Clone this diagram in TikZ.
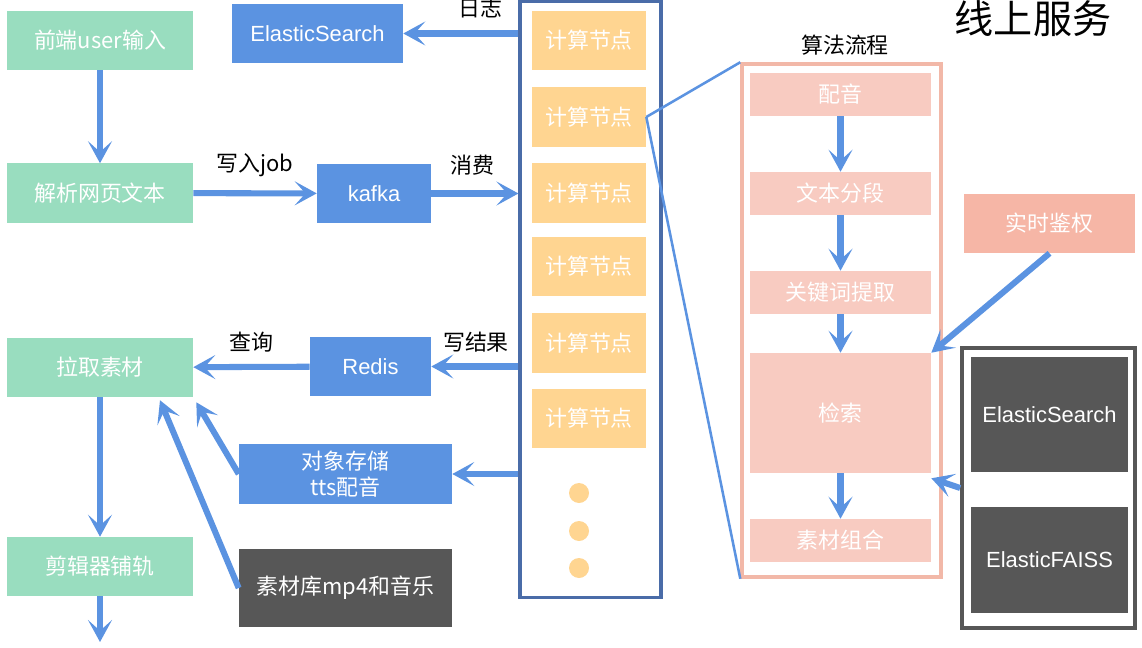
\documentclass[tikz,border=0pt]{standalone}
\usepackage{fontspec}
\setmainfont{Liberation Sans}
\newfontfamily\cjk{Noto Sans CJK SC}
\usetikzlibrary{arrows.meta,calc,positioning}
\definecolor{mintgreen}{HTML}{99DDBF}
\definecolor{flowblue}{HTML}{5B93E1}
\definecolor{colblue}{HTML}{4A6CA8}
\definecolor{nodeorange}{HTML}{FFD591}
\definecolor{lightpink}{HTML}{F8CBC1}
\definecolor{framepink}{HTML}{F2B8A8}
\definecolor{salmon}{HTML}{F6B6A6}
\definecolor{darkgray}{HTML}{575757}
\tikzset{
    zhtext/.style = {font=\cjk\fontsize{15.6}{18.4}\selectfont},
    entext/.style = {font=\fontsize{15.6}{18.4}\selectfont},
    box/.style = {inner sep=0pt, text=white, align=center},
    greenbox/.style = {box, zhtext, fill=mintgreen, minimum width=4.65cm, minimum height=1.475cm},
    bluebox/.style = {box, fill=flowblue, minimum height=1.475cm},
    compbox/.style = {box, zhtext, fill=nodeorange, minimum width=2.85cm, minimum height=1.475cm},
    algobox/.style = {box, zhtext, fill=lightpink, minimum width=4.525cm, minimum height=1.075cm},
    graybox/.style = {box, entext, fill=darkgray, minimum width=3.925cm},
    dot/.style = {circle, fill=nodeorange, inner sep=0pt, minimum size=0.5cm},
    lbl/.style = {zhtext, text=black},
    flow/.style = {draw=flowblue, line width=4.3pt, -{Stealth[length=0.55cm,width=0.6cm,inset=0.27cm]}},
    zoomline/.style = {draw=flowblue, line width=1.8pt}
}

\begin{document}
\begin{tikzpicture}[x=0.025cm, y=-0.025cm]
    \useasboundingbox (0,0) rectangle (1142,648);

    %% left column
    \node[greenbox] (input) at (100,40.5) {前端user输入};
    \node[greenbox] (parse) at (100,193) {解析网页文本};
    \node[greenbox] (pull) at (100,367.5) {拉取素材};
    \node[greenbox] (edit) at (100,566.5) {剪辑器铺轨};
    \coordinate (out) at (100,642);

    %% middle services
    \node[bluebox, entext, minimum width=4.275cm] (logs) at (317.5,33.5) {ElasticSearch};
    \node[bluebox, entext, minimum width=2.85cm] (kafka) at (374,193.5) {kafka};
    \node[bluebox, entext, minimum width=3.025cm] (redis) at (370.5,366.5) {Redis};
    \node[bluebox, zhtext, minimum width=5.325cm, minimum height=1.5cm] (oss) at (345.5,474) {对象存储\\tts配音};
    \node[box, zhtext, fill=darkgray, minimum width=5.325cm, minimum height=1.95cm] (lib) at (345.5,588) {素材库mp4和音乐};

    %% compute nodes
    \node[draw=colblue, line width=2.2pt, minimum width=3.525cm, minimum height=14.875cm, inner sep=0pt] (col) at (590.5,299.5) {};
    \foreach \y [count=\i] in {40.5,117,193,266.5,343,418.5}
        \node[compbox] (comp\i) at (589,\y) {计算节点};
    \foreach \y [count=\i] in {493,531,568}
        \node[dot] (dot\i) at (579,\y) {};

    %% algorithm flow
    \node[lbl] (algotitle) at (845,45) {算法流程};
    \node[draw=framepink, line width=2.4pt, minimum width=4.975cm, minimum height=12.825cm, inner sep=0pt] (algo) at (841.5,320.5) {};
    \node[algobox] (dub) at (840.5,94.5) {配音};
    \node[algobox] (split) at (840.5,193.5) {文本分段};
    \node[algobox] (keyword) at (840.5,292.5) {关键词提取};
    \node[algobox, minimum height=3cm] (search) at (840.5,413) {检索};
    \node[algobox] (combine) at (840.5,540.5) {素材组合};

    %% online services
    \node[font=\cjk\fontsize{27.8}{30}\selectfont] (online) at (1033,19) {线上服务};
    \node[box, zhtext, fill=salmon, minimum width=4.275cm, minimum height=1.475cm] (auth) at (1049.5,223.5) {实时鉴权};
    \node[draw=darkgray, line width=2.6pt, minimum width=4.325cm, minimum height=7cm, inner sep=0pt] (engines) at (1048.5,488) {};
    \node[graybox, minimum height=2.875cm] (es) at (1049.5,414.5) {ElasticSearch};
    \node[graybox, minimum height=2.65cm] (faiss) at (1049.5,560) {ElasticFAISS};

    %% connectors
    \draw[flow] (input) -- (parse);
    \draw[flow] (parse) -- (kafka);
    \draw[flow] (kafka.east) -- (kafka.east -| col.west);
    \draw[flow] (logs.east -| col.west) -- (logs.east);
    \draw[flow] (redis.east -| col.west) -- (redis.east);
    \draw[flow] (redis) -- (pull);
    \draw[flow] (oss.east -| col.west) -- (oss.east);
    \draw[flow] (oss.west) -- ($(pull.south east)+(3,5)$);
    \draw[flow] (lib.west) -- ($(pull.south)+(60,3)$);
    \draw[flow] (pull) -- (edit);
    \draw[flow] (edit) -- (out);

    \draw[flow] (dub) -- (split);
    \draw[flow] (split) -- (keyword);
    \draw[flow] (keyword) -- (search);
    \draw[flow] (search) -- (combine);
    \draw[flow] (auth.south) -- (search.north east);
    \draw[flow] (engines.west) -- ($(search.south east)+(0,5)$);

    \draw[zoomline] (comp2.east) -- (algo.north west);
    \draw[zoomline] (comp2.east) -- (algo.south west);

    %% labels
    \node[lbl] (lbllog) at (480,8) {日志};
    \node[lbl] (lbljob) at (255,165) {写入job};
    \node[lbl] (lblconsume) at (472,165) {消费};
    \node[lbl] (lblwrite) at (476,342) {写结果};
    \node[lbl] (lblquery) at (251,342) {查询};

\end{tikzpicture}
\end{document}
